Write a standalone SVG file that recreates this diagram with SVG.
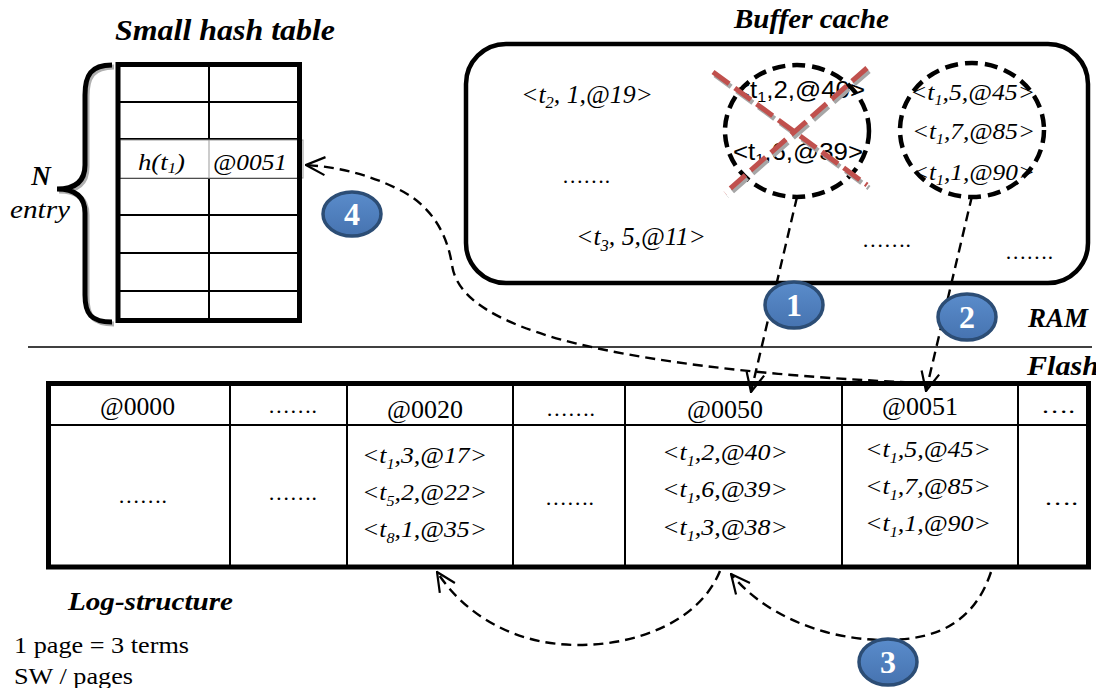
<svg xmlns="http://www.w3.org/2000/svg" width="1096" height="688" viewBox="0 0 1096 688">
<style>
.serif{font-family:"Liberation Serif","Times New Roman",serif;}
.sans{font-family:"Liberation Sans",Arial,sans-serif;}
.title{font-family:"Liberation Serif","Times New Roman",serif;font-weight:bold;font-style:italic;}
.it{font-family:"Liberation Serif","Times New Roman",serif;font-style:italic;}
.grid{stroke:#000;stroke-width:2;fill:none;}
.thick{stroke:#000;stroke-width:5;fill:none;}
.dash{stroke:#000;stroke-width:2.4;fill:none;stroke-dasharray:10 6;}
.dcirc{stroke:#000;stroke-width:4.5;fill:none;stroke-dasharray:13 7;}
.redx{stroke:#C0504D;stroke-width:5;stroke-dasharray:20 7;}
.redsh{stroke:#a6a6a6;stroke-width:5;stroke-dasharray:20 7;}
.badge{fill:url(#bg);stroke:#2C4D75;stroke-width:3.5;}
.num{font-family:"Liberation Serif","Times New Roman",serif;font-weight:bold;fill:#fff;font-size:32px;}
</style>
<defs>
<linearGradient id="bg" x1="0" y1="0" x2="0" y2="1">
<stop offset="0" stop-color="#5a8ccb"/>
<stop offset="1" stop-color="#4673b0"/>
</linearGradient>
<marker id="arr" viewBox="0 0 22 22" refX="21" refY="11" markerWidth="22" markerHeight="22" markerUnits="userSpaceOnUse" orient="auto">
<path d="M2,2 L21,11 L2,20" fill="none" stroke="#000" stroke-width="2.2"/>
</marker>
</defs>
<rect width="1096" height="688" fill="#fff"/>

<!-- Small hash table -->
<g id="hash-table">
<text class="title" x="115" y="40" font-size="29" textLength="220" lengthAdjust="spacingAndGlyphs">Small hash table</text>
<line class="grid" x1="118" y1="102" x2="300" y2="102"/>
<line class="grid" x1="118" y1="139" x2="300" y2="139"/>
<line class="grid" x1="118" y1="178" x2="300" y2="178"/>
<line class="grid" x1="118" y1="215" x2="300" y2="215"/>
<line class="grid" x1="118" y1="253" x2="300" y2="253"/>
<line class="grid" x1="118" y1="291" x2="300" y2="291"/>
<line class="grid" x1="209" y1="64" x2="209" y2="320"/>
<rect x="120" y="140" width="183" height="38" fill="#fff" stroke="#999" stroke-width="1"/>
<line x1="209" y1="140" x2="209" y2="178" stroke="#999" stroke-width="1"/>
<rect class="thick" x="118" y="64.5" width="181.5" height="256"/>
<text class="it" x="138" y="170" font-size="24" textLength="47" lengthAdjust="spacingAndGlyphs">h(t<tspan font-size="15" dy="3">1</tspan><tspan dy="-3">)</tspan></text>
<text class="it" x="213" y="170" font-size="24" textLength="74" lengthAdjust="spacingAndGlyphs">@0051</text>
</g>

<g id="brace">
<path d="M114,67 C93,67 87,77 87,97 L87,167 C87,186 74,191 59,191 C74,191 87,196 87,215 L87,297 C87,316 93,324 114,324" fill="none" stroke="#b0b0b0" stroke-width="5"/>
<path d="M112,65 C91,65 85,75 85,95 L85,165 C85,184 72,189 57,189 C72,189 85,194 85,213 L85,295 C85,314 91,322 112,322" fill="none" stroke="#000" stroke-width="5"/>
<text class="title" x="41" y="185" font-size="27" text-anchor="middle">N</text>
<text class="it" x="10" y="218" font-size="25" textLength="60" lengthAdjust="spacingAndGlyphs">entry</text>
</g>

<!-- Buffer cache -->
<g id="buffer-cache">
<text class="title" x="734" y="28" font-size="27" textLength="155" lengthAdjust="spacingAndGlyphs">Buffer cache</text>
<rect x="466" y="44" width="622" height="239" rx="40" ry="40" fill="none" stroke="#000" stroke-width="4.5"/>
<text class="it" x="521" y="103" font-size="25" textLength="132" lengthAdjust="spacingAndGlyphs">&lt;t<tspan font-size="16" dy="5">2</tspan><tspan dy="-5">, 1,@19&gt;</tspan></text>
<text class="serif" x="562" y="183" font-size="22" textLength="48" lengthAdjust="spacingAndGlyphs">…….</text>
<text class="it" x="576" y="245" font-size="25" textLength="130" lengthAdjust="spacingAndGlyphs">&lt;t<tspan font-size="16" dy="6">3</tspan><tspan dy="-6">, 5,@11&gt;</tspan></text>
<text class="serif" x="862" y="247" font-size="22" textLength="49" lengthAdjust="spacingAndGlyphs">…….</text>
<text class="serif" x="1005" y="259" font-size="22" textLength="48" lengthAdjust="spacingAndGlyphs">…….</text>
</g>

<g id="buffer-group-1">
<ellipse class="dcirc" cx="797" cy="131" rx="72" ry="66"/>
<text class="sans" x="735" y="98" font-size="24" textLength="130" lengthAdjust="spacingAndGlyphs">&lt;t<tspan font-size="15" dy="4">1</tspan><tspan dy="-4">,2,@40&gt;</tspan></text>
<text class="sans" x="733" y="160" font-size="24" textLength="130" lengthAdjust="spacingAndGlyphs">&lt;t<tspan font-size="15" dy="4">1</tspan><tspan dy="-4">,6,@39&gt;</tspan></text>
<line class="redsh" x1="715" y1="75" x2="869" y2="188"/>
<line class="redsh" x1="869" y1="71" x2="727" y2="196"/>
<line class="redx" x1="713" y1="72" x2="867" y2="185"/>
<line class="redx" x1="867" y1="68" x2="725" y2="193"/>
</g>

<g id="buffer-group-2">
<ellipse class="dcirc" cx="972" cy="130" rx="72" ry="67"/>
<text class="it" x="910" y="100" font-size="24" textLength="125" lengthAdjust="spacingAndGlyphs">&lt;t<tspan font-size="15" dy="5">1</tspan><tspan dy="-5">,5,@45&gt;</tspan></text>
<text class="it" x="912" y="139" font-size="24" textLength="123" lengthAdjust="spacingAndGlyphs">&lt;t<tspan font-size="15" dy="5">1</tspan><tspan dy="-5">,7,@85&gt;</tspan></text>
<text class="it" x="912" y="180" font-size="24" textLength="123" lengthAdjust="spacingAndGlyphs">&lt;t<tspan font-size="15" dy="5">1</tspan><tspan dy="-5">,1,@90&gt;</tspan></text>
</g>

<!-- RAM / Flash -->
<g id="ram-flash">
<line x1="28" y1="347" x2="1092" y2="347" stroke="#000" stroke-width="1.5"/>
<text class="title" x="1028" y="327" font-size="27" textLength="60" lengthAdjust="spacingAndGlyphs">RAM</text>
<text class="title" x="1027" y="375" font-size="27" textLength="72" lengthAdjust="spacingAndGlyphs">Flash</text>
</g>

<!-- Log-structure -->
<g id="log-structure">
<line class="grid" x1="48" y1="425" x2="1088" y2="425"/>
<line class="grid" x1="230" y1="384" x2="230" y2="567"/>
<line class="grid" x1="347" y1="384" x2="347" y2="567"/>
<line class="grid" x1="513" y1="384" x2="513" y2="567"/>
<line class="grid" x1="625" y1="384" x2="625" y2="567"/>
<line class="grid" x1="842" y1="384" x2="842" y2="567"/>
<line class="grid" x1="1018" y1="384" x2="1018" y2="567"/>
<rect class="thick" x="48.5" y="383.5" width="1040" height="183.5"/>
<text class="serif" x="100" y="415" font-size="25" textLength="75" lengthAdjust="spacingAndGlyphs">@0000</text>
<text class="serif" x="268" y="413" font-size="22" textLength="49" lengthAdjust="spacingAndGlyphs">…….</text>
<text class="serif" x="387" y="418" font-size="25" textLength="76" lengthAdjust="spacingAndGlyphs">@0020</text>
<text class="serif" x="546" y="416" font-size="22" textLength="49" lengthAdjust="spacingAndGlyphs">…….</text>
<text class="serif" x="687" y="418" font-size="25" textLength="76" lengthAdjust="spacingAndGlyphs">@0050</text>
<text class="serif" x="882" y="415" font-size="25" textLength="76" lengthAdjust="spacingAndGlyphs">@0051</text>
<text class="serif" x="1041" y="413" font-size="22" textLength="34" lengthAdjust="spacingAndGlyphs">….</text>

<text class="serif" x="118" y="503" font-size="22" textLength="49" lengthAdjust="spacingAndGlyphs">…….</text>
<text class="serif" x="268" y="500" font-size="22" textLength="49" lengthAdjust="spacingAndGlyphs">…….</text>
<text class="serif" x="545" y="505" font-size="22" textLength="49" lengthAdjust="spacingAndGlyphs">…….</text>
<text class="serif" x="1044" y="505" font-size="22" textLength="34" lengthAdjust="spacingAndGlyphs">….</text>

<text class="it" x="362" y="463" font-size="24" textLength="125" lengthAdjust="spacingAndGlyphs">&lt;t<tspan font-size="15" dy="6">1</tspan><tspan dy="-6">,3,@17&gt;</tspan></text>
<text class="it" x="362" y="500" font-size="24" textLength="125" lengthAdjust="spacingAndGlyphs">&lt;t<tspan font-size="15" dy="6">5</tspan><tspan dy="-6">,2,@22&gt;</tspan></text>
<text class="it" x="362" y="537" font-size="24" textLength="125" lengthAdjust="spacingAndGlyphs">&lt;t<tspan font-size="15" dy="6">8</tspan><tspan dy="-6">,1,@35&gt;</tspan></text>

<text class="it" x="662" y="460" font-size="24" textLength="126" lengthAdjust="spacingAndGlyphs">&lt;t<tspan font-size="15" dy="6">1</tspan><tspan dy="-6">,2,@40&gt;</tspan></text>
<text class="it" x="662" y="497" font-size="24" textLength="126" lengthAdjust="spacingAndGlyphs">&lt;t<tspan font-size="15" dy="6">1</tspan><tspan dy="-6">,6,@39&gt;</tspan></text>
<text class="it" x="662" y="535" font-size="24" textLength="126" lengthAdjust="spacingAndGlyphs">&lt;t<tspan font-size="15" dy="6">1</tspan><tspan dy="-6">,3,@38&gt;</tspan></text>

<text class="it" x="865" y="457" font-size="24" textLength="126" lengthAdjust="spacingAndGlyphs">&lt;t<tspan font-size="15" dy="6">1</tspan><tspan dy="-6">,5,@45&gt;</tspan></text>
<text class="it" x="865" y="494" font-size="24" textLength="126" lengthAdjust="spacingAndGlyphs">&lt;t<tspan font-size="15" dy="6">1</tspan><tspan dy="-6">,7,@85&gt;</tspan></text>
<text class="it" x="865" y="531" font-size="24" textLength="126" lengthAdjust="spacingAndGlyphs">&lt;t<tspan font-size="15" dy="6">1</tspan><tspan dy="-6">,1,@90&gt;</tspan></text>

<text class="title" x="68" y="610" font-size="26" textLength="165" lengthAdjust="spacingAndGlyphs">Log-structure</text>
<text class="serif" x="14" y="653" font-size="23" textLength="175" lengthAdjust="spacingAndGlyphs">1 page = 3 terms</text>
<text class="serif" x="14" y="684" font-size="23" textLength="119" lengthAdjust="spacingAndGlyphs">SW / pages</text>
</g>

<!-- Connectors -->
<g id="connectors">
<line class="dash" x1="797" y1="197" x2="751" y2="392" marker-end="url(#arr)"/>
<line class="dash" x1="972" y1="196" x2="926" y2="391" marker-end="url(#arr)"/>
<path class="dash" d="M926,383 C790,378 610,362 520,326 C470,306 455,285 452,265 C447,232 430,205 400,190 C370,175 340,167 306,165" marker-end="url(#arr)"/>
<path class="dash" d="M720,571 C700,620 640,645 578,645 C515,645 465,615 437,572" marker-end="url(#arr)"/>
<path class="dash" d="M991,572 C975,620 940,640 886,640 C820,640 762,612 731,574" marker-end="url(#arr)"/>
</g>

<!-- Step badges -->
<g id="badge-1"><ellipse class="badge" cx="794" cy="305" rx="29" ry="23"/><text class="num" x="794" y="316" text-anchor="middle">1</text></g>
<g id="badge-2"><ellipse class="badge" cx="967" cy="317" rx="29" ry="23"/><text class="num" x="967" y="328" text-anchor="middle">2</text></g>
<g id="badge-3"><ellipse class="badge" cx="888" cy="662" rx="29" ry="23"/><text class="num" x="888" y="673" text-anchor="middle">3</text></g>
<g id="badge-4"><ellipse class="badge" cx="352" cy="214" rx="29" ry="22"/><text class="num" x="352" y="225" text-anchor="middle">4</text></g>
</svg>
